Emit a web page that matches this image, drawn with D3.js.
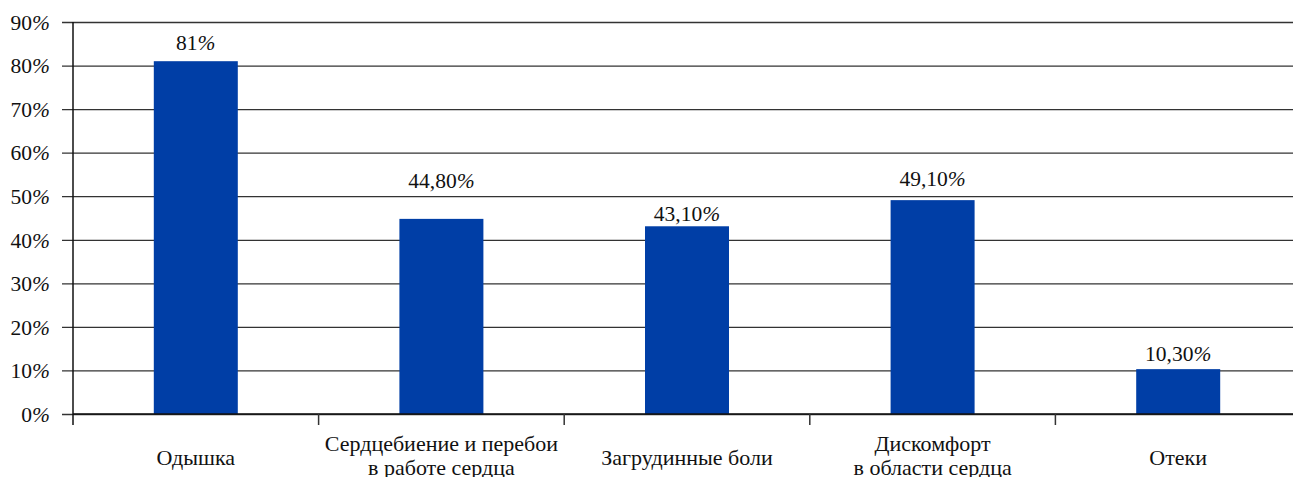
<!DOCTYPE html>
<html>
<head>
<meta charset="utf-8">
<script src="https://cdn.jsdelivr.net/npm/d3@7"></script>
<style>
  html, body { margin: 0; padding: 0; background: #fff; }
  svg { display: block; }
  svg text { font-family: "Liberation Serif", "Times New Roman", serif; fill: #111; }
</style>
</head>
<body>
<div id="chart"></div>
<script>
// data
var categories = [
  ["Одышка"],
  ["Сердцебиение и перебои", "в работе сердца"],
  ["Загрудинные боли"],
  ["Дискомфорт", "в области сердца"],
  ["Отеки"]
];
var values = [81, 44.8, 43.1, 49.1, 10.3];
var valueLabels = ["81", "44,80", "43,10", "49,10", "10,30"];
var yTicks = [0, 10, 20, 30, 40, 50, 60, 70, 80, 90];

// layout: label baseline lift above bar top, px (labels were placed by hand)
var labelLift = [11, 31, 5, 14, 8];

var W = 1293, H = 477,
    plotLeft = 73, bandRight = 1301, plotTop = 22, plotBottom = 414;

var svg = d3.select('#chart').append('svg').attr('width', W).attr('height', H);

var x = d3.scaleBand().domain(d3.range(categories.length)).range([plotLeft, bandRight]).paddingInner(0.658).paddingOuter(0.329);
var xTicks = d3.scaleBand().domain(d3.range(categories.length)).range([plotLeft, bandRight]);
var y = d3.scaleLinear().domain([0, 90]).range([plotBottom, plotTop]);

// gridlines + y axis
var yAxis = d3.axisLeft(y).tickValues(yTicks).tickSize(-(W - plotLeft)).tickSizeOuter(0).tickFormat(function(d){ return d; });
var gy = svg.append('g').attr('transform', 'translate(' + plotLeft + ',0)').call(yAxis);
gy.attr('font-family', null).attr('font-size', null);
gy.select('.domain').remove();
gy.selectAll('.tick line').attr('x1', -11).attr('stroke', '#333').attr('stroke-width', 1.3);
gy.selectAll('.tick text').remove();
gy.selectAll('.tick').append('text')
  .attr('x', -23).attr('dy', '0.34em').attr('text-anchor', 'end')
  .style('font-size', '21.5px')
  .each(function(d){
    var t = d3.select(this);
    t.append('tspan').text(d);
    t.append('tspan').style('font-style', 'italic').text('%');
  });

// bars
svg.selectAll('.bar').data(values).enter().append('rect').attr('class', 'bar')
  .attr('x', function(d, i){ return x(i); })
  .attr('width', x.bandwidth())
  .attr('y', function(d){ return y(d); })
  .attr('height', function(d){ return plotBottom - y(d); })
  .attr('fill', '#003ea6');

// value labels
svg.selectAll('.vlab').data(values).enter().append('text').attr('class', 'vlab')
  .attr('x', function(d, i){ return x(i) + x.bandwidth() / 2; })
  .attr('y', function(d, i){ return y(d) - labelLift[i]; })
  .attr('text-anchor', 'middle')
  .style('font-size', '21.5px')
  .each(function(d, i){
    var t = d3.select(this);
    t.append('tspan').text(valueLabels[i]);
    t.append('tspan').style('font-style', 'italic').text('%');
  });

// y axis line
svg.append('line').attr('x1', plotLeft).attr('x2', plotLeft).attr('y1', plotTop).attr('y2', plotBottom + 11)
  .attr('stroke', '#111').attr('stroke-width', 1.5);

// x axis
svg.append('line').attr('x1', plotLeft).attr('x2', W).attr('y1', plotBottom).attr('y2', plotBottom)
  .attr('stroke', '#111').attr('stroke-width', 1.5);
svg.selectAll('.xtick').data(d3.range(1, categories.length)).enter().append('line').attr('class', 'xtick')
  .attr('x1', function(i){ return xTicks(i); }).attr('x2', function(i){ return xTicks(i); })
  .attr('y1', plotBottom).attr('y2', plotBottom + 11)
  .attr('stroke', '#333').attr('stroke-width', 1.5);

// category labels
svg.selectAll('.clab').data(categories).enter().append('text').attr('class', 'clab')
  .attr('x', function(d, i){ return xTicks(i) + xTicks.bandwidth() / 2; })
  .attr('y', function(d){ return d.length > 1 ? 451 : 465; })
  .attr('text-anchor', 'middle')
  .style('font-size', '22px')
  .each(function(d){
    var t = d3.select(this);
    d.forEach(function(line, k){
      t.append('tspan').attr('x', t.attr('x')).attr('dy', k === 0 ? 0 : 24).text(line);
    });
  });
</script>
</body>
</html>
